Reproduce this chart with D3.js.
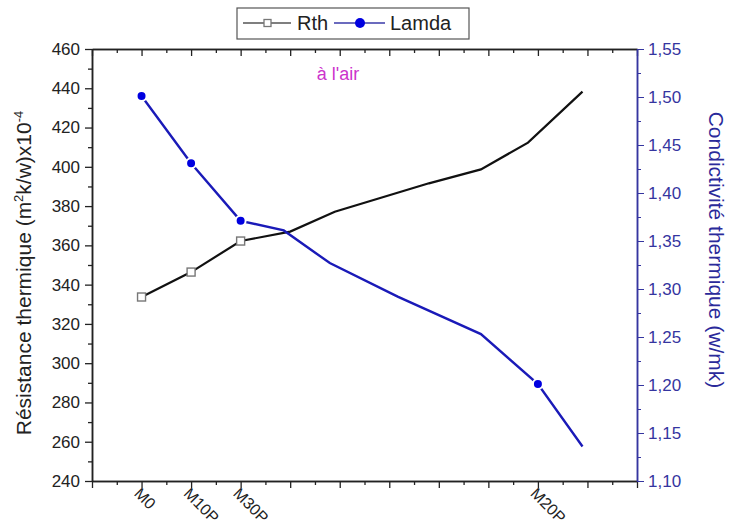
<!DOCTYPE html>
<html>
<head>
<meta charset="utf-8">
<script src="https://cdn.jsdelivr.net/npm/d3@7"></script>
<style>
  body { margin: 0; background: #fff; }
  svg text { font-family: "Liberation Sans", Arial, sans-serif; }
</style>
</head>
<body>
<svg id="chart" width="729" height="524"></svg>
<script>
// categories on the x axis (numeric position -> label)
const tickPos = [1, 2, 3, 9];
const tickLabels = ["M0", "M10P", "M30P", "M20P"];

// Rth series (left axis)
const rthX = [1, 2, 3, 4, 4.9, 6.8, 7.85, 8.8, 9.9];
const rthVal = [333.7, 346.4, 362.2, 367.0, 377.1, 391.6, 398.7, 412.3, 438.3];
const rthMarked = [0, 1, 2];

// Lamda series (right axis)
const lamX = [1, 2, 3, 3.87, 4.8, 6.17, 7.85, 9, 9.9];
const lamVal = [1.501, 1.431, 1.371, 1.361, 1.327, 1.292, 1.253, 1.201, 1.136];
const lamMarked = [0, 1, 2, 7];

const leftTicks = d3.range(240, 461, 20);
const rightTicks = d3.range(1.10, 1.551, 0.05);

const margin = { top: 49, right: 92, bottom: 43, left: 92 };
const W = 729, H = 524;
const x0 = margin.left, x1 = W - margin.right;
const y0 = H - margin.bottom, y1 = margin.top;

const svg = d3.select("#chart");
const blueAxis = "#3535a0";

const x = d3.scaleLinear().domain([0, 11]).range([x0, x1]);
const yL = d3.scaleLinear().domain([240, 460]).range([y0, y1]);
const yR = d3.scaleLinear().domain([1.10, 1.55]).range([y0, y1]);

// bottom axis
const majorX = d3.range(0, 12, 1);
const minorX = d3.range(0.5, 11, 1);
svg.append("g").attr("transform", `translate(0,${y0})`)
  .call(d3.axisBottom(x).tickValues(minorX).tickSize(4).tickSizeOuter(0).tickFormat(""));
const bMaj = svg.append("g").attr("transform", `translate(0,${y0})`)
  .call(d3.axisBottom(x).tickValues(majorX).tickSize(7).tickSizeOuter(0)
    .tickFormat(d => { const i = tickPos.indexOf(d); return i >= 0 ? tickLabels[i] : ""; }));
bMaj.selectAll("text")
  .attr("transform", "translate(-2,4) rotate(45)")
  .style("text-anchor", "start")
  .attr("dy", "0.35em")
  .attr("y", 6)
  .attr("x", 2)
  .attr("font-size", 16)
  .attr("fill", "#222");

// top axis (ticks inward)
svg.append("g").attr("transform", `translate(0,${y1})`)
  .call(d3.axisBottom(x).tickValues(minorX).tickSize(4).tickSizeOuter(0).tickFormat(""));
svg.append("g").attr("transform", `translate(0,${y1})`)
  .call(d3.axisBottom(x).tickValues(majorX).tickSize(7).tickSizeOuter(0).tickFormat(""));

// left axis
svg.append("g").attr("transform", `translate(${x0},0)`)
  .call(d3.axisLeft(yL).tickValues(d3.range(250, 460, 20)).tickSize(4).tickSizeOuter(0).tickFormat(""));
const lAx = svg.append("g").attr("transform", `translate(${x0},0)`)
  .call(d3.axisLeft(yL).tickValues(leftTicks).tickSize(7).tickSizeOuter(0));
lAx.selectAll("text").attr("font-size", 17).attr("fill", "#222").attr("x", -12);

// right axis
const rMinor = svg.append("g").attr("transform", `translate(${x1},0)`)
  .call(d3.axisRight(yR).tickValues(d3.range(1.125, 1.55, 0.05)).tickSize(4).tickSizeOuter(0).tickFormat(""));
const rAx = svg.append("g").attr("transform", `translate(${x1},0)`)
  .call(d3.axisRight(yR).tickValues(rightTicks).tickSize(7).tickSizeOuter(0)
    .tickFormat(d => d3.format(".2f")(d).replace(".", ",")));
rAx.selectAll("text").attr("font-size", 17).attr("fill", blueAxis).attr("x", 11);
[rMinor, rAx].forEach(g => {
  g.select(".domain").attr("stroke", blueAxis).attr("stroke-width", 1.5);
  g.selectAll(".tick line").attr("stroke", blueAxis);
});
svg.selectAll(".domain").filter(function () { return this.getAttribute("stroke") !== blueAxis; })
  .attr("stroke", "#222").attr("stroke-width", 1.5);
svg.selectAll(".tick line").filter(function () { return this.getAttribute("stroke") !== blueAxis; })
  .attr("stroke", "#222").attr("stroke-width", 1.3);

// axis titles
svg.append("text")
  .attr("transform", `translate(31,${(y0 + y1) / 2 + 8}) rotate(-90)`)
  .attr("text-anchor", "middle")
  .attr("font-size", 21)
  .attr("fill", "#222")
  .html('Résistance thermique (m<tspan dy="-8" font-size="13">2</tspan><tspan dy="8">k/w)x10</tspan><tspan dy="-8" font-size="13">-4</tspan>');

svg.append("text")
  .attr("transform", `translate(709,${(y0 + y1) / 2 - 15}) rotate(90)`)
  .attr("text-anchor", "middle")
  .attr("font-size", 21)
  .attr("fill", "#2a2a9a")
  .text("Condictivité thermique (w/mk)");

svg.append("text")
  .attr("x", 338).attr("y", 80)
  .attr("text-anchor", "middle")
  .attr("font-size", 18)
  .attr("fill", "#cc33cc")
  .text("à l'air");

// lines
const rthData = rthX.map((d, i) => ({ x: d, v: rthVal[i] }));
const lamData = lamX.map((d, i) => ({ x: d, v: lamVal[i] }));

svg.append("path").datum(rthData)
  .attr("fill", "none").attr("stroke", "#111").attr("stroke-width", 2.2)
  .attr("d", d3.line().x(d => x(d.x)).y(d => yL(d.v)));
svg.append("path").datum(lamData)
  .attr("fill", "none").attr("stroke", "#1a1ab8").attr("stroke-width", 2.4)
  .attr("d", d3.line().x(d => x(d.x)).y(d => yR(d.v)));

// markers
svg.selectAll(".rthM").data(rthMarked.map(i => rthData[i])).enter()
  .append("rect").attr("class", "rthM")
  .attr("x", d => x(d.x) - 4).attr("y", d => yL(d.v) - 4)
  .attr("width", 8).attr("height", 8)
  .attr("fill", "#fff").attr("stroke", "#777").attr("stroke-width", 1.4);
svg.selectAll(".lamM").data(lamMarked.map(i => lamData[i])).enter()
  .append("circle").attr("class", "lamM")
  .attr("cx", d => x(d.x)).attr("cy", d => yR(d.v)).attr("r", 5)
  .attr("fill", "#0000e0").attr("stroke", "#fff").attr("stroke-width", 2);

// legend
const lg = svg.append("g");
lg.append("rect").attr("x", 237).attr("y", 8).attr("width", 232).attr("height", 31)
  .attr("fill", "#fff").attr("stroke", "#555").attr("stroke-width", 1.2);
lg.append("line").attr("x1", 243).attr("x2", 291).attr("y1", 23).attr("y2", 23)
  .attr("stroke", "#555").attr("stroke-width", 1.5);
lg.append("rect").attr("x", 264).attr("y", 19.5).attr("width", 7).attr("height", 7)
  .attr("fill", "#fff").attr("stroke", "#777").attr("stroke-width", 1.3);
lg.append("text").attr("x", 297).attr("y", 30).attr("font-size", 20).attr("fill", "#222").text("Rth");
lg.append("line").attr("x1", 334).attr("x2", 385).attr("y1", 23).attr("y2", 23)
  .attr("stroke", "#3a3aa8").attr("stroke-width", 1.5);
lg.append("circle").attr("cx", 360).attr("cy", 23).attr("r", 5).attr("fill", "#0000e0");
lg.append("text").attr("x", 390).attr("y", 30).attr("font-size", 20).attr("fill", "#222").text("Lamda");
</script>
</body>
</html>
